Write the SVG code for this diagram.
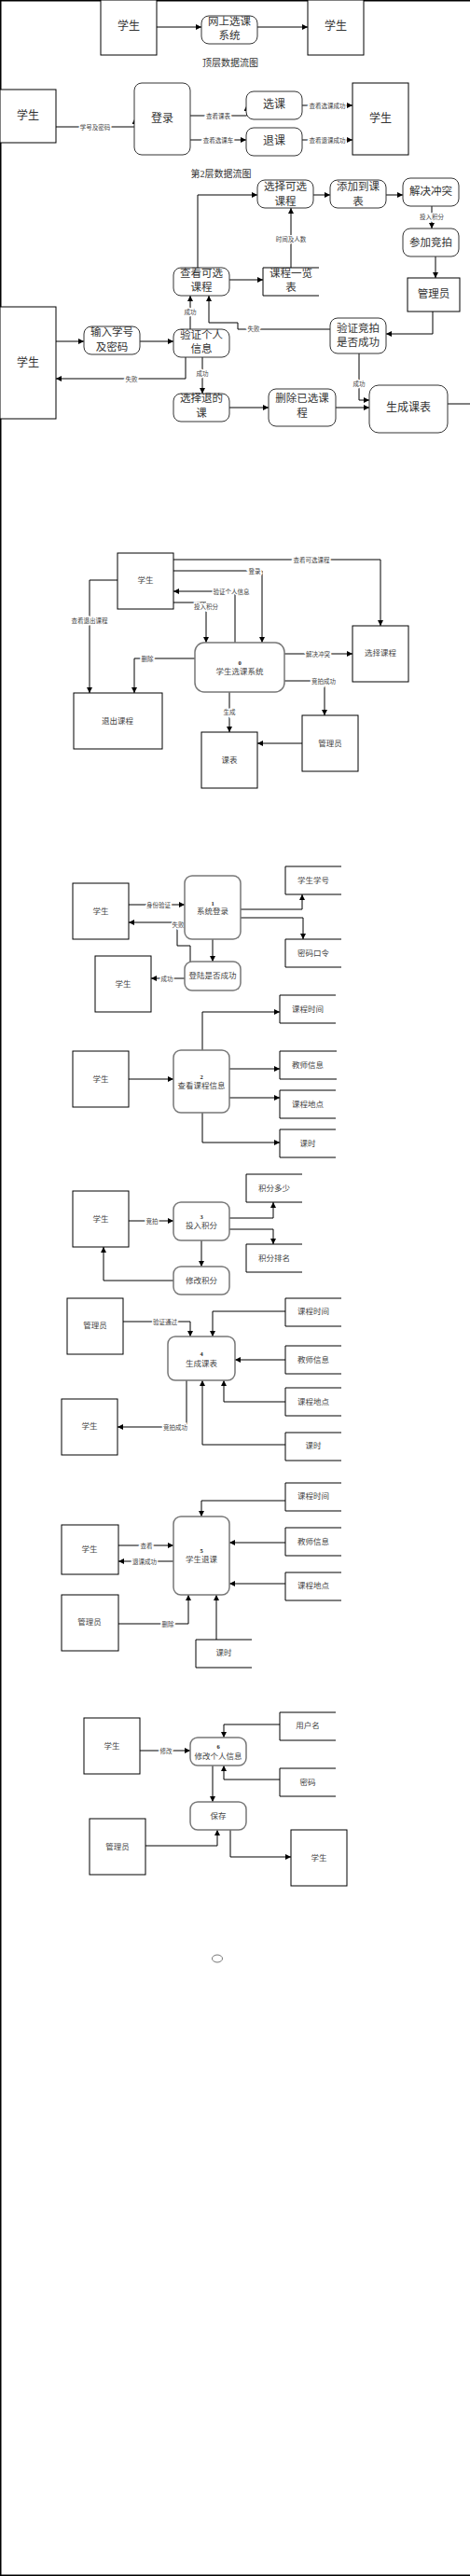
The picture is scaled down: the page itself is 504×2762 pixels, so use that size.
<svg xmlns="http://www.w3.org/2000/svg" width="504" height="2762" viewBox="0 0 504 2762">
<defs>
<marker id="a" viewBox="0 0 10 10" refX="10" refY="5" markerWidth="7" markerHeight="6" markerUnits="userSpaceOnUse" orient="auto"><path d="M0,0 L10,5 L0,10 z" fill="#000"/></marker>
<style>
text{font-family:"Liberation Serif","Noto Sans CJK SC",serif;text-anchor:middle;dominant-baseline:central;fill:#333}
.box{fill:#fff;stroke:#000;stroke-width:1}
.rb{fill:#fff;stroke:#333;stroke-width:1}
.rg{fill:#fff;stroke:#777;stroke-width:1.5}
.ds{fill:none;stroke:#000;stroke-width:1}
.t12{font-size:12px}
.t11{font-size:11.5px}
.t10{font-size:10px}
.t8{font-size:8.5px;fill:#444}
.num{font-size:6.5px;font-weight:bold;fill:#222}
.lbl{font-size:6.5px;fill:#444;paint-order:stroke;stroke:#fff;stroke-width:3px}
#conns path{fill:none;stroke:#000;stroke-width:1;marker-end:url(#a)}
#conns path.na{marker-end:none}
</style>
</defs>
<g id="border" fill="none" stroke="#000" stroke-width="1.5">
<path d="M0.75,0 V2762"/><path d="M0,0.75 H504"/><path d="M0,2761.25 H504"/>
</g>

<g id="conns">
<!-- top level -->
<path d="M168,29 H216"/><path d="M276,29 H330"/>
<!-- level B -->
<path d="M60,136 H144.5 V127"/>
<path d="M204,124 H264.5 V113"/>
<path d="M204,150 H264"/>
<path d="M324,113 H378"/>
<path d="M324,150 H378"/>
<!-- level C -->
<path d="M336,209 H354"/>
<path d="M414,209 H432"/>
<path d="M463,221 V245"/>
<path d="M467,275 V298"/>
<path d="M464,334 V358 H414"/>
<path d="M354,353 H255 V346 H224 V317"/>
<path d="M212,287 V209 H276"/>
<path d="M246,300 H282"/>
<path d="M312,287 V223"/>
<path d="M60,366 H90"/>
<path d="M150,366 H186"/>
<path d="M204,353 V317"/>
<path d="M199,383 V406 H60"/>
<path d="M217,383 V422"/>
<path d="M246,437 H288"/>
<path d="M360,437 H396"/>
<path d="M385,379 V429 H396"/>
<path class="na" d="M480,433 H504"/>
<!-- level 0 -->
<path d="M186,600 H408 V671"/>
<path d="M186,612 H281 V689"/>
<path d="M252,689 V634 H186"/>
<path d="M186,646 H221 V689"/>
<path d="M126,622 H96 V743"/>
<path d="M209,706 H144 V743"/>
<path d="M305,701 H378"/>
<path d="M305,730 H348 V767"/>
<path d="M324,797 H276"/>
<path d="M246,742 V785"/>
<!-- 1 -->
<path d="M138,970 H198"/>
<path d="M204,1031 V1014 H190 V989 H138"/>
<path d="M228,1007 V1031"/>
<path d="M198,1049 H162"/>
<path d="M258,975 H324 V959"/>
<path d="M258,984 H325 V1007"/>
<!-- 2 -->
<path d="M138,1157 H186"/>
<path d="M217,1126 V1085 H300"/>
<path d="M246,1146 H300"/>
<path d="M246,1177 H300"/>
<path d="M217,1193 V1225 H300"/>
<!-- 3 -->
<path d="M138,1309 H186"/>
<path d="M246,1306 H293 V1289"/>
<path d="M246,1318 H293 V1334"/>
<path d="M216,1330 V1358"/>
<path d="M186,1373 H111 V1337"/>
<!-- 4 -->
<path d="M132,1417 H204 V1433"/>
<path d="M306,1406 H228 V1433"/>
<path d="M306,1458 H252"/>
<path d="M306,1503 H240 V1480"/>
<path d="M306,1549 H217 V1480"/>
<path d="M200,1480 V1530 H126"/>
<!-- 5 -->
<path d="M306,1609 H216 V1626"/>
<path d="M306,1654 H246"/>
<path d="M306,1698 H246"/>
<path d="M127,1657 H186"/>
<path d="M186,1674 H127"/>
<path d="M127,1741 H202 V1710"/>
<path d="M232,1758 V1710"/>
<!-- 6 -->
<path d="M150,1877 H204"/>
<path d="M300,1849 H240 V1863"/>
<path d="M300,1908 H240 V1893"/>
<path d="M228,1893 V1932"/>
<path d="M156,1979 H233 V1962"/>
<path d="M247,1962 V1991 H312"/>
</g>

<g id="labels">
<text class="lbl" x="102" y="136">学号及密码</text>
<text class="lbl" x="234" y="124">查看课表</text>
<text class="lbl" x="234" y="150">查看选课车</text>
<text class="lbl" x="351" y="113">查看选课成功</text>
<text class="lbl" x="351" y="150">查看退课成功</text>
<text class="lbl" x="463" y="232">投入积分</text>
<text class="lbl" x="272" y="352">失败</text>
<text class="lbl" x="312" y="256">时间及人数</text>
<text class="lbl" x="204" y="334">成功</text>
<text class="lbl" x="141" y="406">失败</text>
<text class="lbl" x="217" y="400">成功</text>
<text class="lbl" x="385" y="411">成功</text>
<text class="lbl" x="334" y="600">查看可选课程</text>
<text class="lbl" x="273" y="612">登录</text>
<text class="lbl" x="248" y="634">验证个人信息</text>
<text class="lbl" x="221" y="650">投入积分</text>
<text class="lbl" x="96" y="665">查看退出课程</text>
<text class="lbl" x="158" y="706">删除</text>
<text class="lbl" x="341" y="701">解决冲突</text>
<text class="lbl" x="347" y="730">竞拍成功</text>
<text class="lbl" x="246" y="763">生成</text>
<text class="lbl" x="170" y="970">身份验证</text>
<text class="lbl" x="191" y="991">失败</text>
<text class="lbl" x="179" y="1049">成功</text>
<text class="lbl" x="163" y="1309">竞拍</text>
<text class="lbl" x="177" y="1417">验证通过</text>
<text class="lbl" x="188" y="1530">竞拍成功</text>
<text class="lbl" x="157" y="1657">查看</text>
<text class="lbl" x="155" y="1674">退课成功</text>
<text class="lbl" x="180" y="1741">删除</text>
<text class="lbl" x="178" y="1877">修改</text>
</g>

<!-- Top level -->
<g id="A1"><rect class="box" x="108" y="0" width="60" height="59"/><text class="t12" x="138" y="28">学生</text></g>
<g id="A2"><rect class="rb" x="216" y="17" width="60" height="30" rx="8"/><text class="t11" x="246" y="23">网上选课</text><text class="t11" x="246" y="38">系统</text></g>
<g id="A3"><rect class="box" x="330" y="0" width="60" height="59"/><text class="t12" x="360" y="28">学生</text></g>
<text class="t10" x="247" y="67">顶层数据流图</text>

<!-- Level B -->
<g id="B1"><rect class="box" x="0" y="96" width="60" height="57"/><text class="t12" x="30" y="124">学生</text></g>
<g id="B2"><rect class="rb" x="144" y="89" width="60" height="77" rx="8"/><text class="t12" x="174" y="127">登录</text></g>
<g id="B3"><rect class="rb" x="264" y="98" width="60" height="30" rx="8"/><text class="t12" x="294" y="112">选课</text></g>
<g id="B4"><rect class="rb" x="264" y="137" width="60" height="30" rx="8"/><text class="t12" x="294" y="151">退课</text></g>
<g id="B5"><rect class="box" x="378" y="89" width="60" height="77"/><text class="t12" x="408" y="127">学生</text></g>
<text class="t10" x="237" y="186">第2层数据流图</text>

<!-- Level C -->
<g id="C1"><rect class="rb" x="276" y="193" width="60" height="30" rx="8"/><text class="t11" x="306" y="200">选择可选</text><text class="t11" x="306" y="216">课程</text></g>
<g id="C2"><rect class="rb" x="354" y="193" width="60" height="30" rx="8"/><text class="t11" x="384" y="200">添加到课</text><text class="t11" x="384" y="216">表</text></g>
<g id="C3"><rect class="rb" x="432" y="191" width="60" height="30" rx="8"/><text class="t11" x="462" y="205">解决冲突</text></g>
<g id="C4"><rect class="rb" x="432" y="245" width="60" height="30" rx="8"/><text class="t11" x="462" y="260">参加竞拍</text></g>
<g id="C5"><rect class="box" x="437" y="298" width="56" height="36"/><text class="t11" x="465" y="315">管理员</text></g>
<g id="C6"><rect class="rb" x="354" y="341" width="60" height="38" rx="8"/><text class="t11" x="384" y="352">验证竞拍</text><text class="t11" x="384" y="367">是否成功</text></g>
<g id="C7"><rect class="rb" x="186" y="287" width="60" height="30" rx="8"/><text class="t11" x="216" y="293">查看可选</text><text class="t11" x="216" y="308">课程</text></g>
<g id="C8"><path class="ds" d="M342,287 H282 V317 H342"/><text class="t11" x="312" y="293">课程一览</text><text class="t11" x="312" y="308">表</text></g>
<g id="C9"><rect class="box" x="0" y="329" width="60" height="120"/><text class="t12" x="30" y="389">学生</text></g>
<g id="C10"><rect class="rb" x="90" y="350" width="60" height="30" rx="8"/><text class="t11" x="120" y="356">输入学号</text><text class="t11" x="120" y="372">及密码</text></g>
<g id="C11"><rect class="rb" x="186" y="353" width="60" height="30" rx="8"/><text class="t11" x="216" y="359">验证个人</text><text class="t11" x="216" y="374">信息</text></g>
<g id="C12"><rect class="rb" x="186" y="422" width="60" height="30" rx="8"/><text class="t11" x="216" y="427">选择退的</text><text class="t11" x="216" y="443">课</text></g>
<g id="C13"><rect class="rb" x="288" y="417" width="72" height="40" rx="8"/><text class="t11" x="324" y="427">删除已选课</text><text class="t11" x="324" y="443">程</text></g>
<g id="C14"><rect class="rb" x="396" y="413" width="84" height="51" rx="10"/><text class="t12" x="438" y="437">生成课表</text></g>

<!-- Level 0 -->
<g id="D1"><rect class="box" x="126" y="593" width="60" height="60"/><text class="t8" x="156" y="622">学生</text></g>
<g id="D2"><rect class="rg" x="209" y="689" width="96" height="53" rx="10"/><text class="num" x="257" y="710">0</text><text class="t8" x="257" y="720">学生选课系统</text></g>
<g id="D3"><rect class="box" x="79" y="743" width="95" height="60"/><text class="t8" x="126" y="773">退出课程</text></g>
<g id="D4"><rect class="box" x="378" y="671" width="60" height="60"/><text class="t8" x="408" y="700">选择课程</text></g>
<g id="D5"><rect class="box" x="324" y="767" width="60" height="60"/><text class="t8" x="354" y="797">管理员</text></g>
<g id="D6"><rect class="box" x="216" y="785" width="60" height="60"/><text class="t8" x="246" y="815">课表</text></g>

<!-- 1 -->
<g id="E1"><rect class="box" x="78" y="947" width="60" height="60"/><text class="t8" x="108" y="977">学生</text></g>
<g id="E2"><rect class="rg" x="198" y="939" width="60" height="68" rx="8"/><text class="num" x="228" y="968">1</text><text class="t8" x="228" y="977">系统登录</text></g>
<g id="E3"><rect class="rg" x="198" y="1031" width="60" height="31" rx="8"/><text class="t8" x="228" y="1046">登陆是否成功</text></g>
<g id="E4"><rect class="box" x="102" y="1025" width="60" height="60"/><text class="t8" x="132" y="1055">学生</text></g>
<g id="E5"><path class="ds" d="M366,929 H306 V959 H366"/><text class="t8" x="336" y="944">学生学号</text></g>
<g id="E6"><path class="ds" d="M366,1007 H306 V1037 H366"/><text class="t8" x="336" y="1022">密码口令</text></g>

<!-- 2 -->
<g id="F1"><rect class="box" x="78" y="1127" width="60" height="60"/><text class="t8" x="108" y="1157">学生</text></g>
<g id="F2"><rect class="rg" x="186" y="1126" width="60" height="67" rx="8"/><text class="num" x="216" y="1154">2</text><text class="t8" x="216" y="1164">查看课程信息</text></g>
<g id="F3"><path class="ds" d="M360,1067 H300 V1097 H360"/><text class="t8" x="330" y="1082">课程时间</text></g>
<g id="F4"><path class="ds" d="M361,1127 H300 V1157 H361"/><text class="t8" x="330" y="1142">教师信息</text></g>
<g id="F5"><path class="ds" d="M360,1169 H300 V1199 H360"/><text class="t8" x="330" y="1184">课程地点</text></g>
<g id="F6"><path class="ds" d="M360,1211 H300 V1241 H360"/><text class="t8" x="330" y="1226">课时</text></g>

<!-- 3 -->
<g id="G1"><rect class="box" x="78" y="1277" width="60" height="60"/><text class="t8" x="108" y="1307">学生</text></g>
<g id="G2"><rect class="rg" x="186" y="1289" width="60" height="41" rx="8"/><text class="num" x="216" y="1304">3</text><text class="t8" x="216" y="1314">投入积分</text></g>
<g id="G3"><path class="ds" d="M324,1259 H264 V1289 H324"/><text class="t8" x="294" y="1274">积分多少</text></g>
<g id="G4"><path class="ds" d="M324,1334 H264 V1364 H324"/><text class="t8" x="294" y="1349">积分排名</text></g>
<g id="G5"><rect class="rg" x="186" y="1358" width="60" height="30" rx="8"/><text class="t8" x="216" y="1373">修改积分</text></g>

<!-- 4 -->
<g id="H1"><rect class="box" x="72" y="1392" width="60" height="60"/><text class="t8" x="102" y="1421">管理员</text></g>
<g id="H2"><rect class="rg" x="180" y="1433" width="72" height="47" rx="8"/><text class="num" x="216" y="1451">4</text><text class="t8" x="216" y="1462">生成课表</text></g>
<g id="H3"><path class="ds" d="M366,1392 H306 V1422 H366"/><text class="t8" x="336" y="1406">课程时间</text></g>
<g id="H4"><path class="ds" d="M366,1443 H306 V1473 H366"/><text class="t8" x="336" y="1458">教师信息</text></g>
<g id="H5"><path class="ds" d="M366,1488 H306 V1518 H366"/><text class="t8" x="336" y="1503">课程地点</text></g>
<g id="H6"><path class="ds" d="M366,1536 H306 V1566 H366"/><text class="t8" x="336" y="1550">课时</text></g>
<g id="H7"><rect class="box" x="66" y="1500" width="60" height="60"/><text class="t8" x="96" y="1529">学生</text></g>

<!-- 5 -->
<g id="I1"><path class="ds" d="M366,1590 H306 V1620 H366"/><text class="t8" x="336" y="1604">课程时间</text></g>
<g id="I2"><rect class="rg" x="186" y="1626" width="60" height="84" rx="8"/><text class="num" x="216" y="1662">5</text><text class="t8" x="216" y="1672">学生退课</text></g>
<g id="I3"><path class="ds" d="M366,1638 H306 V1668 H366"/><text class="t8" x="336" y="1653">教师信息</text></g>
<g id="I4"><path class="ds" d="M366,1686 H306 V1716 H366"/><text class="t8" x="336" y="1700">课程地点</text></g>
<g id="I5"><rect class="box" x="66" y="1635" width="61" height="53"/><text class="t8" x="96" y="1661">学生</text></g>
<g id="I6"><rect class="box" x="66" y="1710" width="61" height="60"/><text class="t8" x="96" y="1739">管理员</text></g>
<g id="I7"><path class="ds" d="M270,1758 H210 V1788 H270"/><text class="t8" x="240" y="1772">课时</text></g>

<!-- 6 -->
<g id="J1"><rect class="box" x="90" y="1842" width="60" height="60"/><text class="t8" x="120" y="1872">学生</text></g>
<g id="J2"><rect class="rg" x="204" y="1863" width="60" height="30" rx="8"/><text class="num" x="234" y="1872">6</text><text class="t8" x="234" y="1883">修改个人信息</text></g>
<g id="J3"><path class="ds" d="M360,1836 H300 V1866 H360"/><text class="t8" x="330" y="1850">用户名</text></g>
<g id="J4"><path class="ds" d="M360,1896 H300 V1926 H360"/><text class="t8" x="330" y="1911">密码</text></g>
<g id="J5"><rect class="rg" x="204" y="1932" width="60" height="30" rx="8"/><text class="t8" x="234" y="1947">保存</text></g>
<g id="J6"><rect class="box" x="96" y="1950" width="60" height="60"/><text class="t8" x="126" y="1980">管理员</text></g>
<g id="J7"><rect class="box" x="312" y="1962" width="60" height="60"/><text class="t8" x="342" y="1992">学生</text></g>

<ellipse cx="233" cy="2100" rx="5.5" ry="4" fill="none" stroke="#777" stroke-width="1"/>
</svg>
